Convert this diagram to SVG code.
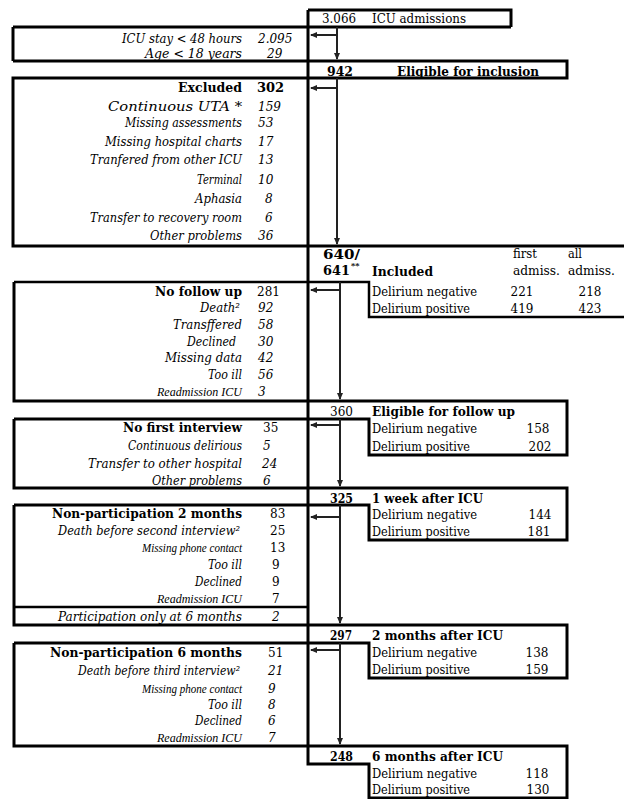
<svg xmlns="http://www.w3.org/2000/svg" width="624" height="799" viewBox="0 0 624 799">
<defs>
<style>
.t{font-family:"DejaVu Serif","Liberation Serif",serif;font-size:12px;fill:#000}
.c{font-family:"Liberation Serif","DejaVu Serif",serif;font-size:13px}
.i{font-style:italic}
.b{font-weight:bold}
.r{text-anchor:end}
.m{text-anchor:middle}
.s{font-size:8px}
.ln{fill:none;stroke:#000;stroke-width:3}
.ln2{fill:none;stroke:#000;stroke-width:2.5}
.ar{fill:none;stroke:#222;stroke-width:2}
</style>
<marker id="ah" markerUnits="userSpaceOnUse" markerWidth="7" markerHeight="7" refX="6" refY="3.5" orient="auto">
<path d="M0,0.5 L7,3.5 L0,6.5 z" fill="#222"/>
</marker>
</defs>
<rect width="624" height="799" fill="#fff"/>

<g id="frames">
<path class="ln" d="M308,10 V764 H369 V799"/>
<path class="ln" d="M308,10 H511 V27"/>
<path class="ln" d="M13,27 H511"/>
<path class="ln" d="M13,27 V61"/>
<path class="ln" d="M13,61 H567 V78 H13 V246 H624"/>
<path class="ln2" d="M14,282 H369 V317 H624"/>
<path class="ln" d="M14,282 V401 H567 V455 H369 V419 H14"/>
<path class="ln" d="M14,419 V488 H567 V540 H369 V505 H14"/>
<path class="ln" d="M14,505 V625 H567 V678 H369 V643 H14"/>
<path class="ln2" d="M14,607 H308"/>
<path class="ln" d="M14,643 V746 H567 V798 H369"/>
</g>

<g id="connectors">
<path class="ar" d="M337,27 V59" marker-end="url(#ah)"/>
<path class="ar" d="M337,35 H311" marker-end="url(#ah)"/>
<path class="ar" d="M337,78 V244" marker-end="url(#ah)"/>
<path class="ar" d="M337,88 H311" marker-end="url(#ah)"/>
<path class="ar" d="M340,282 V399" marker-end="url(#ah)"/>
<path class="ar" d="M340,290 H311" marker-end="url(#ah)"/>
<path class="ar" d="M340,419 V486" marker-end="url(#ah)"/>
<path class="ar" d="M340,425 H311" marker-end="url(#ah)"/>
<path class="ar" d="M340,505 V623" marker-end="url(#ah)"/>
<path class="ar" d="M340,517 H311" marker-end="url(#ah)"/>
<path class="ar" d="M340,643 V744" marker-end="url(#ah)"/>
<path class="ar" d="M340,650 H311" marker-end="url(#ah)"/>
</g>

<g id="admissions">
<text class="t" x="322" y="23" textLength="34" lengthAdjust="spacingAndGlyphs">3.066</text>
<text class="t" x="372" y="23" textLength="94" lengthAdjust="spacingAndGlyphs">ICU admissions</text>
</g>

<g id="early-exclusion">
<text class="t i r" x="242" y="43" textLength="120" lengthAdjust="spacingAndGlyphs">ICU stay &lt; 48 hours</text>
<text class="t i" x="258" y="43">2.095</text>
<text class="t i r" x="242" y="58" textLength="97" lengthAdjust="spacingAndGlyphs">Age &lt; 18 years</text>
<text class="t i" x="267" y="58">29</text>
</g>

<g id="eligible-inclusion">
<text class="t b" x="327" y="76" textLength="26" lengthAdjust="spacingAndGlyphs">942</text>
<text class="t b" x="397" y="76" textLength="142" lengthAdjust="spacingAndGlyphs">Eligible for inclusion</text>
</g>

<g id="excluded">
<text class="t b r" x="242" y="92" textLength="64" lengthAdjust="spacingAndGlyphs" style="font-size:13px">Excluded</text>
<text class="t b" x="257" y="92" style="font-size:13px">302</text>
<text class="t i r" x="242" y="111" textLength="134" lengthAdjust="spacingAndGlyphs">Continuous UTA *</text>
<text class="t i" x="258" y="111">159</text>
<text class="t i r" x="242" y="127" textLength="117" lengthAdjust="spacingAndGlyphs">Missing assessments</text>
<text class="t i" x="258" y="127">53</text>
<text class="t i r" x="242" y="146" textLength="137" lengthAdjust="spacingAndGlyphs">Missing hospital charts</text>
<text class="t i" x="258" y="146">17</text>
<text class="t i r" x="242" y="164" textLength="152" lengthAdjust="spacingAndGlyphs">Tranfered from other ICU</text>
<text class="t i" x="258" y="164">13</text>
<text class="t i r" x="242" y="184" textLength="45" lengthAdjust="spacingAndGlyphs">Terminal</text>
<text class="t i" x="258" y="184">10</text>
<text class="t i r" x="242" y="203" textLength="47" lengthAdjust="spacingAndGlyphs">Aphasia</text>
<text class="t i" x="265" y="203">8</text>
<text class="t i r" x="242" y="222" textLength="152" lengthAdjust="spacingAndGlyphs">Transfer to recovery room</text>
<text class="t i" x="265" y="222">6</text>
<text class="t i r" x="242" y="240" textLength="92" lengthAdjust="spacingAndGlyphs">Other problems</text>
<text class="t i" x="258" y="240">36</text>
</g>

<g id="included">
<text class="t b" x="323" y="259" textLength="37" lengthAdjust="spacingAndGlyphs">640/</text>
<text class="t b" x="323" y="275" textLength="27" lengthAdjust="spacingAndGlyphs">641</text>
<text class="t b s" x="351" y="268">**</text>
<text class="t b" x="372" y="276" textLength="61" lengthAdjust="spacingAndGlyphs">Included</text>
<text class="t" x="513" y="258" textLength="24" lengthAdjust="spacingAndGlyphs">first</text>
<text class="t" x="513" y="275" textLength="47" lengthAdjust="spacingAndGlyphs">admiss.</text>
<text class="t" x="568" y="258" textLength="14" lengthAdjust="spacingAndGlyphs">all</text>
<text class="t" x="568" y="275" textLength="47" lengthAdjust="spacingAndGlyphs">admiss.</text>
<text class="t" x="372" y="296" textLength="105" lengthAdjust="spacingAndGlyphs">Delirium negative</text>
<text class="t m" x="522" y="296">221</text>
<text class="t m" x="590" y="296">218</text>
<text class="t" x="372" y="313" textLength="98" lengthAdjust="spacingAndGlyphs">Delirium positive</text>
<text class="t m" x="522" y="313">419</text>
<text class="t m" x="590" y="313">423</text>
</g>

<g id="no-follow-up">
<text class="t b r" x="242" y="296" textLength="87" lengthAdjust="spacingAndGlyphs">No follow up</text>
<text class="t" x="257" y="296">281</text>
<text class="t i r" x="240" y="312" textLength="40" lengthAdjust="spacingAndGlyphs">Death²</text>
<text class="t i" x="258" y="312">92</text>
<text class="t i r" x="242" y="329" textLength="69" lengthAdjust="spacingAndGlyphs">Transffered</text>
<text class="t i" x="258" y="329">58</text>
<text class="t i r" x="236" y="346" textLength="49" lengthAdjust="spacingAndGlyphs">Declined</text>
<text class="t i" x="258" y="346">30</text>
<text class="t i r" x="242" y="362" textLength="77" lengthAdjust="spacingAndGlyphs">Missing data</text>
<text class="t i" x="258" y="362">42</text>
<text class="t i r" x="242" y="379" textLength="34" lengthAdjust="spacingAndGlyphs">Too ill</text>
<text class="t i" x="258" y="379">56</text>
<text class="t c i r" x="242" y="396" textLength="85" lengthAdjust="spacingAndGlyphs">Readmission ICU</text>
<text class="t i" x="258" y="396">3</text>
</g>

<g id="eligible-follow-up">
<text class="t" x="330" y="416" textLength="23" lengthAdjust="spacingAndGlyphs">360</text>
<text class="t b" x="372" y="416" textLength="143" lengthAdjust="spacingAndGlyphs">Eligible for follow up</text>
<text class="t" x="372" y="433" textLength="105" lengthAdjust="spacingAndGlyphs">Delirium negative</text>
<text class="t m" x="538" y="433">158</text>
<text class="t" x="372" y="451" textLength="98" lengthAdjust="spacingAndGlyphs">Delirium positive</text>
<text class="t m" x="540" y="451">202</text>
</g>

<g id="no-first-interview">
<text class="t b r" x="242" y="432" textLength="119" lengthAdjust="spacingAndGlyphs">No first interview</text>
<text class="t" x="263" y="432">35</text>
<text class="t i r" x="242" y="450" textLength="114" lengthAdjust="spacingAndGlyphs">Continuous delirious</text>
<text class="t i" x="263" y="450">5</text>
<text class="t i r" x="242" y="468" textLength="154" lengthAdjust="spacingAndGlyphs">Transfer to other hospital</text>
<text class="t i" x="262" y="468">24</text>
<text class="t i r" x="242" y="485" textLength="90" lengthAdjust="spacingAndGlyphs">Other problems</text>
<text class="t i" x="263" y="485">6</text>
</g>

<g id="one-week">
<text class="t b" x="330" y="503" textLength="23" lengthAdjust="spacingAndGlyphs">325</text>
<text class="t b" x="372" y="503" textLength="111" lengthAdjust="spacingAndGlyphs">1 week after ICU</text>
<text class="t" x="372" y="519" textLength="105" lengthAdjust="spacingAndGlyphs">Delirium negative</text>
<text class="t m" x="540" y="519">144</text>
<text class="t" x="372" y="536" textLength="98" lengthAdjust="spacingAndGlyphs">Delirium positive</text>
<text class="t m" x="539" y="536">181</text>
</g>

<g id="non-participation-2m">
<text class="t b r" x="242" y="518" textLength="190" lengthAdjust="spacingAndGlyphs">Non-participation 2 months</text>
<text class="t" x="270" y="518">83</text>
<text class="t i r" x="240" y="535" textLength="182" lengthAdjust="spacingAndGlyphs">Death before second interview²</text>
<text class="t" x="270" y="535">25</text>
<text class="t c i r" x="242" y="552" textLength="100" lengthAdjust="spacingAndGlyphs">Missing phone contact</text>
<text class="t" x="270" y="552">13</text>
<text class="t i r" x="242" y="569" textLength="34" lengthAdjust="spacingAndGlyphs">Too ill</text>
<text class="t" x="272" y="569">9</text>
<text class="t i r" x="242" y="586" textLength="47" lengthAdjust="spacingAndGlyphs">Declined</text>
<text class="t" x="272" y="586">9</text>
<text class="t c i r" x="242" y="603" textLength="85" lengthAdjust="spacingAndGlyphs">Readmission ICU</text>
<text class="t" x="272" y="603">7</text>
<text class="t i r" x="242" y="621" textLength="184" lengthAdjust="spacingAndGlyphs">Participation only at 6 months</text>
<text class="t i" x="272" y="621">2</text>
</g>

<g id="two-months">
<text class="t b" x="330" y="640" textLength="22" lengthAdjust="spacingAndGlyphs">297</text>
<text class="t b" x="372" y="640" textLength="131" lengthAdjust="spacingAndGlyphs">2 months after ICU</text>
<text class="t" x="372" y="657" textLength="105" lengthAdjust="spacingAndGlyphs">Delirium negative</text>
<text class="t m" x="537" y="657">138</text>
<text class="t" x="372" y="674" textLength="98" lengthAdjust="spacingAndGlyphs">Delirium positive</text>
<text class="t m" x="537" y="674">159</text>
</g>

<g id="non-participation-6m">
<text class="t b r" x="242" y="657" textLength="192" lengthAdjust="spacingAndGlyphs">Non-participation 6 months</text>
<text class="t" x="268" y="657">51</text>
<text class="t i r" x="240" y="675" textLength="162" lengthAdjust="spacingAndGlyphs">Death before third interview²</text>
<text class="t i" x="268" y="675">21</text>
<text class="t c i r" x="242" y="693" textLength="100" lengthAdjust="spacingAndGlyphs">Missing phone contact</text>
<text class="t i" x="268" y="693">9</text>
<text class="t i r" x="242" y="709" textLength="34" lengthAdjust="spacingAndGlyphs">Too ill</text>
<text class="t i" x="268" y="709">8</text>
<text class="t i r" x="242" y="725" textLength="47" lengthAdjust="spacingAndGlyphs">Declined</text>
<text class="t i" x="268" y="725">6</text>
<text class="t c i r" x="242" y="742" textLength="85" lengthAdjust="spacingAndGlyphs">Readmission ICU</text>
<text class="t i" x="268" y="742">7</text>
</g>

<g id="six-months">
<text class="t b" x="330" y="761" textLength="23" lengthAdjust="spacingAndGlyphs">248</text>
<text class="t b" x="372" y="761" textLength="131" lengthAdjust="spacingAndGlyphs">6 months after ICU</text>
<text class="t" x="372" y="778" textLength="105" lengthAdjust="spacingAndGlyphs">Delirium negative</text>
<text class="t m" x="537" y="778">118</text>
<text class="t" x="372" y="794" textLength="98" lengthAdjust="spacingAndGlyphs">Delirium positive</text>
<text class="t m" x="538" y="794">130</text>
</g>
</svg>
